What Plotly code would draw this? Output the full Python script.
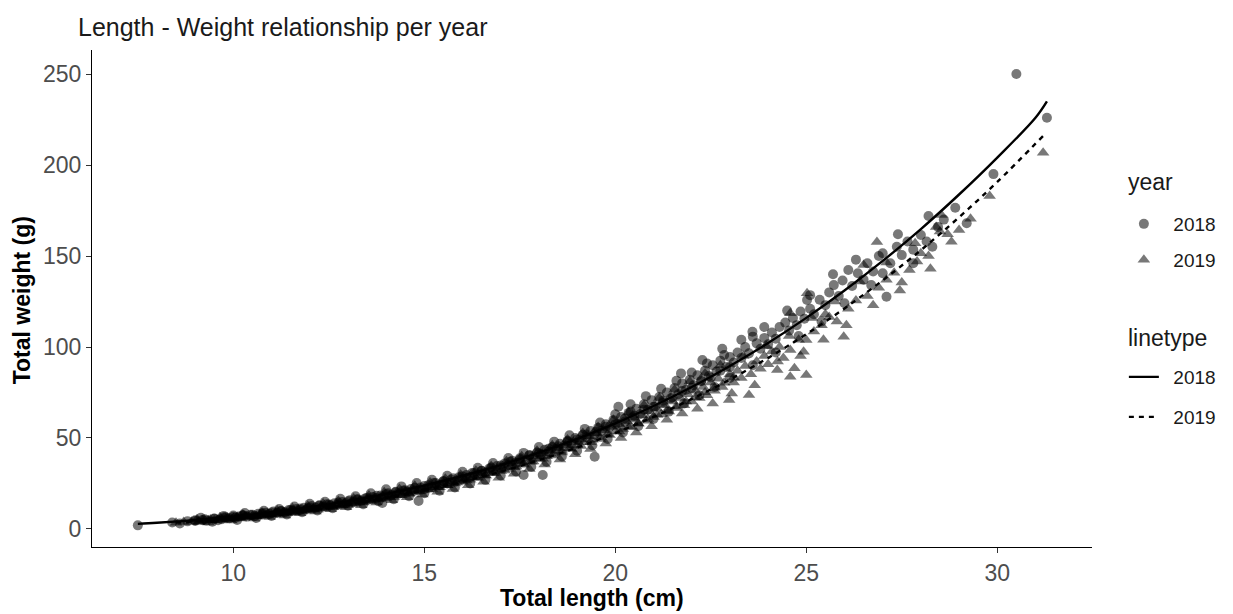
import plotly.graph_objects as go

# Fish samples, 2018: (total length cm, total weight g)
pts_2018 = [
    (7.5, 2.0), (8.4, 3.6), (8.6, 3.0), (8.8, 4.2), (9.0, 4.4), (9.2, 4.9), (9.3, 4.6), (9.5, 5.6),
    (9.6, 4.8), (9.7, 5.4), (9.8, 6.4), (9.9, 5.9), (10.0, 7.4),
    (10.05, 6.2), (10.15, 6.9), (10.25, 7.6), (10.35, 6.8), (10.45, 7.8), (10.55, 7.0), (10.65, 8.4),
    (10.75, 8.0), (10.85, 8.9), (10.95, 8.3), (11.05, 9.6), (11.15, 8.9), (11.25, 9.8), (11.35, 9.2),
    (11.45, 10.4), (11.55, 10.0), (11.65, 11.0), (11.75, 10.5), (11.85, 11.6), (11.95, 11.2),
    (12.05, 12.6), (12.15, 11.8), (12.25, 13.0), (12.35, 12.4), (12.45, 13.6), (12.55, 13.0),
    (12.65, 14.2), (12.75, 13.5), (12.85, 14.8), (12.95, 14.2), (13.05, 15.8), (13.15, 14.8),
    (13.25, 16.2), (13.35, 15.6), (13.45, 16.8), (13.55, 16.2), (13.65, 17.6), (13.75, 17.0),
    (13.85, 18.4), (13.9, 14.3), (13.95, 17.8),
    (14.05, 19.6), (14.15, 18.8), (14.25, 20.2), (14.35, 19.5), (14.45, 21.2), (14.55, 20.4),
    (14.65, 22.0), (14.75, 21.0), (14.85, 15.4), (14.9, 22.8), (15.0, 21.8), (15.1, 24.0),
    (15.2, 23.0), (15.3, 25.2), (15.4, 24.2), (15.5, 26.2), (15.6, 25.0), (15.7, 27.2), (15.8, 26.0),
    (15.9, 28.4),
    (16.0, 27.4), (16.1, 29.6), (16.2, 28.6), (16.3, 30.8), (16.4, 29.6), (16.5, 32.0), (16.6, 31.0),
    (16.7, 33.2), (16.8, 32.0), (16.9, 34.6), (17.0, 33.6), (17.1, 36.0), (17.2, 35.0), (17.3, 37.5),
    (17.4, 36.4), (17.5, 38.8), (17.6, 29.7), (17.65, 37.8), (17.75, 40.5), (17.85, 39.2),
    (17.95, 42.0), (18.1, 29.7),
    (18.05, 41.0), (18.15, 43.5), (18.25, 42.4), (18.35, 45.0), (18.45, 44.0), (18.55, 46.8),
    (18.65, 45.4), (18.75, 48.5), (18.85, 47.0), (18.95, 50.0), (19.05, 48.8), (19.15, 51.8),
    (19.25, 50.4), (19.35, 53.8), (19.45, 52.0), (19.46, 39.7), (19.55, 55.6), (19.65, 54.0),
    (19.75, 57.5), (19.85, 56.0), (19.95, 59.8),
    (20.05, 57.8), (20.08, 67.2), (20.15, 61.5), (20.25, 59.0), (20.35, 63.8), (20.4, 64.5),
    (20.45, 61.2), (20.55, 66.0), (20.65, 63.0), (20.75, 68.5), (20.85, 65.5), (20.95, 70.8),
    (21.05, 67.5), (21.15, 72.5), (21.25, 69.5), (21.35, 75.0), (21.45, 71.8), (21.55, 77.5),
    (21.65, 74.0), (21.72, 85.5), (21.75, 80.0), (21.85, 76.5), (21.95, 82.0),
    (22.05, 79.0), (22.15, 84.5), (22.28, 92.9), (22.25, 81.5), (22.35, 87.0), (22.45, 84.0),
    (22.55, 90.0), (22.65, 86.5), (22.75, 92.5), (22.85, 95.6), (22.9, 89.0), (23.0, 94.5),
    (23.1, 91.5), (23.2, 97.0), (23.3, 94.0), (23.4, 100.0), (23.5, 96.5), (23.59, 108.4),
    (23.6, 105.7), (23.7, 102.0), (23.8, 99.0), (23.9, 105.0), (24.0, 101.5),
    (24.1, 108.0), (24.2, 104.5), (24.3, 111.0), (24.45, 113.4), (24.55, 109.0), (24.65, 116.0),
    (24.75, 112.0), (24.85, 119.5), (25.02, 125.8), (24.95, 115.5), (25.1, 121.0), (25.2, 118.0),
    (25.35, 126.0), (25.5, 123.0), (25.6, 130.0), (25.72, 134.0), (25.85, 128.0), (25.95, 136.5),
    (26.1, 142.3),
    (26.2, 133.5), (26.35, 140.5), (26.5, 137.0), (26.6, 146.0), (26.75, 141.5), (26.9, 150.0),
    (27.0, 151.5), (27.1, 127.6), (27.2, 146.0), (27.37, 155.1), (27.5, 150.5), (27.65, 158.0),
    (27.8, 153.5), (28.0, 161.5), (28.15, 158.0), (28.3, 155.1), (28.45, 166.0),
    (28.6, 170.0), (28.9, 176.5), (29.2, 168.0), (29.9, 195.0), (30.5, 250.0), (31.3, 226.0),
    # fish lying above and below the main band
    (9.15, 6.2), (9.45, 4.0), (9.75, 7.2), (10.1, 5.0), (10.3, 8.8), (10.6, 6.0), (10.8, 10.0),
    (11.0, 7.2), (11.2, 11.0), (11.4, 8.0), (11.6, 12.4), (11.8, 9.2), (12.0, 13.8), (12.2, 10.2),
    (12.4, 15.0), (12.6, 11.4), (12.8, 16.6), (13.0, 12.8), (13.2, 18.0), (13.4, 13.6),
    (13.6, 19.6), (13.8, 15.2), (14.0, 21.8), (14.2, 16.4), (14.4, 23.4), (14.6, 18.0),
    (14.8, 25.2), (15.0, 19.6), (15.2, 27.0), (15.4, 21.0), (15.6, 29.2), (15.8, 22.8),
    (16.0, 31.4), (16.2, 25.0), (16.4, 33.6), (16.6, 27.0), (16.8, 36.2), (17.0, 29.4),
    (17.2, 39.0), (17.4, 31.6), (17.6, 41.8), (17.8, 34.2), (18.0, 45.0), (18.2, 37.0),
    (18.4, 48.0), (18.6, 39.8), (18.8, 51.5), (19.0, 43.0), (19.2, 55.0), (19.4, 46.0),
    (19.6, 58.5), (19.8, 49.5), (20.0, 63.0), (20.2, 53.0), (20.4, 68.5), (20.6, 56.5),
    (20.8, 73.0), (21.0, 60.5), (21.2, 77.0), (21.4, 64.5), (21.6, 81.5), (21.8, 69.0),
    (22.0, 86.0), (22.2, 73.5), (22.4, 91.0), (22.6, 78.0), (22.8, 99.0), (23.0, 83.0),
    (23.3, 104.0), (23.6, 90.0), (23.9, 111.0), (24.2, 97.0), (24.5, 120.0), (24.8, 106.0),
    (25.1, 128.5), (25.4, 114.0), (25.7, 140.0), (26.0, 124.0), (26.3, 148.0), (26.7, 134.0),
    (27.0, 140.5), (27.4, 162.0), (27.8, 146.0), (28.2, 172.0),
    # fish in the core of the band
    (9.0, 4.8), (9.25, 5.4), (9.5, 5.7), (9.75, 6.4), (10.0, 6.7), (10.25, 7.4), (10.5, 7.8),
    (10.75, 8.6), (11.0, 9.0), (11.25, 9.9), (11.5, 10.4), (11.75, 11.3), (12.0, 11.8),
    (12.25, 12.8), (12.5, 13.4), (12.75, 14.5), (13.0, 15.2), (13.25, 16.3), (13.5, 17.1),
    (13.75, 18.3), (14.0, 19.1), (14.25, 20.4), (14.5, 21.3), (14.75, 22.7), (15.0, 23.6),
    (15.25, 25.2), (15.5, 26.2), (15.75, 27.9), (16.0, 28.9), (16.25, 30.8), (16.5, 31.9),
    (16.75, 33.8), (17.0, 34.9), (17.25, 37.0), (17.5, 38.2), (17.75, 40.5), (18.0, 41.6),
    (18.25, 44.1), (18.5, 45.4), (18.75, 47.9), (19.0, 49.2), (19.25, 51.9), (19.5, 53.4),
    (19.75, 56.2), (20.0, 57.6), (20.25, 60.7), (20.5, 62.2), (20.75, 65.5), (21.0, 67.2),
    (21.25, 70.5), (21.5, 72.3), (21.75, 75.8), (22.0, 77.5), (22.25, 81.2), (22.5, 83.2),
    (22.75, 87.0), (23.0, 89.0),
]

# Fish samples, 2019
pts_2019 = [
    (8.5, 3.4), (8.7, 3.8), (8.9, 4.0), (9.1, 3.8), (9.2, 4.6), (9.4, 5.2), (9.5, 4.6), (9.7, 5.0),
    (9.8, 5.8), (9.9, 5.4),
    (10.0, 6.0), (10.1, 6.6), (10.2, 5.8), (10.3, 6.9), (10.4, 6.4), (10.5, 7.2), (10.6, 6.8),
    (10.7, 7.6), (10.8, 7.2), (10.9, 8.2), (11.0, 7.8), (11.1, 8.6), (11.2, 8.0), (11.3, 9.0),
    (11.4, 8.6), (11.5, 9.6), (11.6, 9.0), (11.7, 10.2), (11.8, 9.6), (11.9, 10.8),
    (12.0, 10.2), (12.1, 11.2), (12.2, 10.6), (12.3, 11.8), (12.4, 11.2), (12.5, 12.6), (12.6, 12.0),
    (12.7, 13.2), (12.8, 12.6), (12.9, 14.0), (13.0, 13.2), (13.1, 14.6), (13.2, 14.0), (13.3, 15.4),
    (13.4, 14.6), (13.5, 16.0), (13.6, 15.4), (13.7, 16.8), (13.8, 16.2), (13.9, 17.6),
    (14.0, 16.8), (14.1, 18.6), (14.2, 17.6), (14.3, 19.4), (14.4, 18.6), (14.5, 20.4), (14.6, 19.4),
    (14.7, 21.2), (14.8, 20.4), (14.9, 22.2), (15.0, 21.4), (15.1, 23.0), (15.2, 22.0), (15.3, 24.0),
    (15.4, 23.0), (15.5, 25.0), (15.6, 24.0), (15.7, 26.0), (15.8, 25.0), (15.9, 27.2),
    (16.0, 26.0), (16.1, 28.2), (16.2, 27.0), (16.3, 29.4), (16.4, 28.2), (16.5, 30.6), (16.6, 29.4),
    (16.7, 31.8), (16.8, 30.6), (16.9, 33.0), (17.0, 31.8), (17.1, 34.4), (17.2, 33.0), (17.3, 35.8),
    (17.4, 34.4), (17.5, 37.2), (17.6, 35.8), (17.7, 38.6), (17.8, 37.0), (17.9, 40.0),
    (18.0, 38.6), (18.1, 41.4), (18.2, 40.0), (18.3, 43.0), (18.4, 41.4), (18.5, 44.6), (18.6, 43.0),
    (18.7, 46.0), (18.8, 44.4), (18.9, 47.6), (19.0, 46.0), (19.1, 49.2), (19.2, 47.6), (19.3, 50.8),
    (19.4, 49.0), (19.5, 52.6), (19.6, 50.6), (19.7, 54.2), (19.8, 52.2), (19.9, 56.0),
    (20.0, 53.5), (20.1, 57.5), (20.2, 55.0), (20.3, 59.0), (20.4, 56.5), (20.5, 61.0), (20.6, 58.0),
    (20.7, 62.5), (20.8, 59.5), (20.9, 64.5), (21.0, 61.5), (21.1, 66.0), (21.2, 63.0), (21.3, 68.0),
    (21.4, 64.5), (21.5, 70.0), (21.6, 66.5), (21.7, 72.0), (21.8, 68.0), (21.9, 74.0),
    (22.0, 70.0), (22.1, 76.0), (22.2, 72.0), (22.3, 78.0), (22.4, 73.5), (22.5, 80.5), (22.6, 76.0),
    (22.7, 82.5), (22.8, 78.0), (22.98, 70.9), (23.0, 85.0), (23.1, 80.5), (23.2, 87.0), (23.3, 83.0),
    (23.4, 89.5), (23.5, 73.6), (23.55, 85.0), (23.7, 92.0), (23.8, 88.0), (23.9, 95.0),
    (24.0, 90.5), (24.1, 97.5), (24.24, 87.4), (24.3, 100.0), (24.4, 94.0), (24.58, 83.7),
    (24.58, 98.4), (24.58, 118.5), (24.69, 88.3), (24.8, 104.0), (24.93, 97.4), (25.0, 84.6),
    (25.0, 103.8), (25.02, 129.5), (25.2, 108.5), (25.4, 112.0), (25.5, 118.0), (25.6, 116.5),
    (25.8, 114.0), (25.98, 105.7),
    (26.1, 121.0), (26.3, 125.5), (26.5, 145.0), (26.6, 128.0), (26.85, 157.7), (26.9, 132.5),
    (27.1, 137.0), (27.3, 140.8), (27.5, 135.5), (27.7, 142.3), (27.9, 147.0), (28.0, 151.5),
    (28.2, 150.0), (28.4, 166.0), (28.5, 163.4), (28.54, 172.5), (28.8, 157.9), (29.0, 164.3),
    (29.3, 170.5), (29.8, 183.0), (31.2, 206.8),
    # fish lying above and below the main band
    (9.05, 5.4), (9.35, 3.6), (9.65, 6.4), (9.95, 4.6), (10.25, 8.0), (10.55, 5.8), (10.75, 9.0),
    (10.95, 6.6), (11.15, 10.2), (11.35, 7.4), (11.55, 11.4), (11.75, 8.6), (11.95, 12.8),
    (12.15, 9.6), (12.35, 14.0), (12.55, 10.8), (12.75, 15.4), (12.95, 12.0), (13.15, 16.8),
    (13.35, 13.0), (13.55, 18.4), (13.75, 14.6), (13.95, 20.2), (14.15, 15.8), (14.35, 22.0),
    (14.55, 17.4), (14.75, 23.8), (14.95, 19.0), (15.15, 25.6), (15.35, 20.4), (15.55, 27.6),
    (15.75, 22.0), (15.95, 29.8), (16.15, 24.0), (16.35, 32.0), (16.55, 26.0), (16.75, 34.6),
    (16.95, 28.2), (17.15, 37.2), (17.35, 30.4), (17.55, 40.0), (17.75, 33.0), (17.95, 43.0),
    (18.15, 35.4), (18.35, 46.0), (18.55, 38.2), (18.75, 49.2), (18.95, 41.0), (19.15, 52.8),
    (19.35, 44.0), (19.55, 56.0), (19.75, 47.0), (19.95, 60.0), (20.15, 50.0), (20.35, 64.0),
    (20.55, 53.0), (20.75, 68.0), (20.95, 56.5), (21.15, 72.0), (21.35, 60.0), (21.55, 76.5),
    (21.75, 63.5), (21.95, 81.0), (22.15, 66.0), (22.35, 85.5), (22.55, 69.0), (22.75, 90.0),
    (23.05, 74.5), (23.35, 95.0), (23.65, 79.0), (23.95, 100.5), (24.25, 92.0), (24.55, 106.0),
    (24.85, 95.0), (25.15, 116.0), (25.45, 104.0), (25.75, 125.0), (26.05, 112.0), (26.4, 136.0),
    (26.75, 123.0), (27.1, 146.5), (27.45, 131.0), (27.85, 157.0), (28.25, 143.0), (28.7, 162.0),
    # fish in the core of the band
    (9.1, 4.3), (9.35, 4.8), (9.6, 5.2), (9.85, 5.7), (10.1, 6.1), (10.35, 6.7), (10.6, 7.1),
    (10.85, 7.7), (11.1, 8.2), (11.35, 8.9), (11.6, 9.4), (11.85, 10.2), (12.1, 10.8),
    (12.35, 11.6), (12.6, 12.3), (12.85, 13.1), (13.1, 13.9), (13.35, 14.8), (13.6, 15.6),
    (13.85, 16.6), (14.1, 17.5), (14.35, 18.6), (14.6, 19.5), (14.85, 20.7), (15.1, 21.7),
    (15.35, 23.0), (15.6, 24.1), (15.85, 25.5), (16.1, 26.6), (16.35, 28.1), (16.6, 29.4),
    (16.85, 30.9), (17.1, 32.2), (17.35, 33.9), (17.6, 35.3), (17.85, 37.1), (18.1, 38.6),
    (18.35, 40.4), (18.6, 42.0), (18.85, 43.9), (19.1, 45.6), (19.35, 47.7), (19.6, 49.5),
    (19.85, 51.7), (20.1, 53.6), (20.35, 55.9), (20.6, 58.0), (20.85, 60.4), (21.1, 62.6),
    (21.35, 65.1), (21.6, 67.4), (21.85, 70.0), (22.1, 72.4), (22.35, 75.1), (22.6, 77.6),
    (22.85, 80.4), (23.1, 83.2),
]

len_2018 = [p[0] for p in pts_2018]
wt_2018 = [p[1] for p in pts_2018]
len_2019 = [p[0] for p in pts_2019]
wt_2019 = [p[1] for p in pts_2019]

# Fitted length-weight curves
fit_len_2018 = [7.5, 8, 9, 10, 11, 12, 13, 14, 15, 16, 17, 18, 19, 20, 21, 22, 23, 24, 25, 26,
                27, 28, 29, 30, 31, 31.3]
fit_wt_2018 = [2.8, 3.4, 4.9, 6.8, 9.1, 11.9, 15.3, 19.2, 23.8, 29.1, 35.1, 41.9, 49.5, 58.0,
               67.6, 78.0, 89.6, 102.2, 116.0, 131.0, 147.3, 164.8, 183.8, 204.1, 226.0, 235.0]
fit_len_2019 = [8.5, 9, 10, 11, 12, 13, 14, 15, 16, 17, 18, 19, 20, 21, 22, 23, 24, 25, 26, 27,
                28, 29, 30, 31.2]
fit_wt_2019 = [3.5, 4.2, 5.9, 7.9, 10.4, 13.5, 17.0, 21.2, 26.0, 31.5, 37.8, 44.8, 52.7, 61.6,
               71.4, 82.1, 94.0, 107.0, 121.2, 136.6, 153.2, 171.3, 190.7, 216.0]

years = ["2018", "2019"]
x_ticks = [10, 15, 20, 25, 30]
y_ticks = [0, 50, 100, 150, 200, 250]

FONT = "Liberation Sans, Arial, sans-serif"
PT_COLOR = "rgba(0,0,0,0.53)"
GAP = "\u2002"  # spacing between legend key and label

fig = go.Figure()

fig.add_trace(go.Scatter(
    x=len_2018, y=wt_2018, mode="markers", name=GAP + years[0],
    marker=dict(symbol="circle", size=10, color=PT_COLOR, line=dict(width=0)),
    legend="legend",
))
fig.add_trace(go.Scatter(
    x=len_2019, y=wt_2019, mode="markers", name=GAP + years[1],
    marker=dict(symbol="triangle-up", size=11, color=PT_COLOR, line=dict(width=0)),
    legend="legend2",
))
fig.add_trace(go.Scatter(
    x=fit_len_2018, y=fit_wt_2018, mode="lines", name=GAP + years[0],
    line=dict(color="black", width=2.4, shape="spline"),
    legend="legend3",
))
fig.add_trace(go.Scatter(
    x=fit_len_2019, y=fit_wt_2019, mode="lines", name=GAP + years[1],
    line=dict(color="black", width=2.4, dash="5px,5px", shape="spline"),
    legend="legend4",
))

axis_common = dict(
    showgrid=False, zeroline=False, showline=True, linecolor="black", linewidth=1.2,
    ticks="outside", ticklen=5, tickwidth=1.2, tickcolor="#333333",
    tickfont=dict(family=FONT, size=23, color="#4d4d4d"),
)

plot_top, plot_bottom, plot_left, plot_right = 50, 547, 92, 1096


def px_x(px):
    return (px - plot_left) / (plot_right - plot_left)


def px_y(py):
    return (plot_bottom - py) / (plot_bottom - plot_top)


leg_font = dict(family=FONT, size=19, color="#1a1a1a")
leg_x = px_x(1128)


def one_item_legend(py):
    return dict(font=leg_font, x=leg_x, y=px_y(py), xanchor="left", yanchor="middle",
                bgcolor="rgba(0,0,0,0)", borderwidth=0)


title_font = dict(family=FONT, size=23, color="#1a1a1a")

fig.update_layout(
    width=1233, height=614,
    margin=dict(l=plot_left, r=1233 - plot_right, t=plot_top, b=614 - plot_bottom),
    paper_bgcolor="white", plot_bgcolor="white",
    font=dict(family=FONT),
    showlegend=True,
    title=dict(text="Length - Weight relationship per year", x=78 / 1233, xref="container",
               xanchor="left", y=1 - 27 / 614, yref="container", yanchor="middle",
               font=dict(family=FONT, size=25, color="#1a1a1a")),
    xaxis=dict(range=[6.3, 32.48], tickvals=x_ticks, **axis_common),
    yaxis=dict(range=[-9.9, 263.2], tickvals=y_ticks, **axis_common),
    legend=one_item_legend(224),
    legend2=one_item_legend(260),
    legend3=one_item_legend(377),
    legend4=one_item_legend(417),
    annotations=[
        dict(text="<b>Total length (cm)</b>", x=0.5, xref="paper", y=px_y(598), yref="paper",
             showarrow=False, font=dict(family=FONT, size=23, color="black"),
             xanchor="center", yanchor="middle"),
        dict(text="<b>Total weight (g)</b>", textangle=-90, x=px_x(22), xref="paper",
             y=px_y(300), yref="paper", showarrow=False,
             font=dict(family=FONT, size=23, color="black"), xanchor="center", yanchor="middle"),
        dict(text="year", x=px_x(1130), xref="paper", y=px_y(182), yref="paper",
             showarrow=False, font=title_font, xanchor="left", yanchor="middle"),
        dict(text="linetype", x=px_x(1130), xref="paper", y=px_y(338), yref="paper",
             showarrow=False, font=title_font, xanchor="left", yanchor="middle"),
    ],
)

fig.write_html("out.html")
